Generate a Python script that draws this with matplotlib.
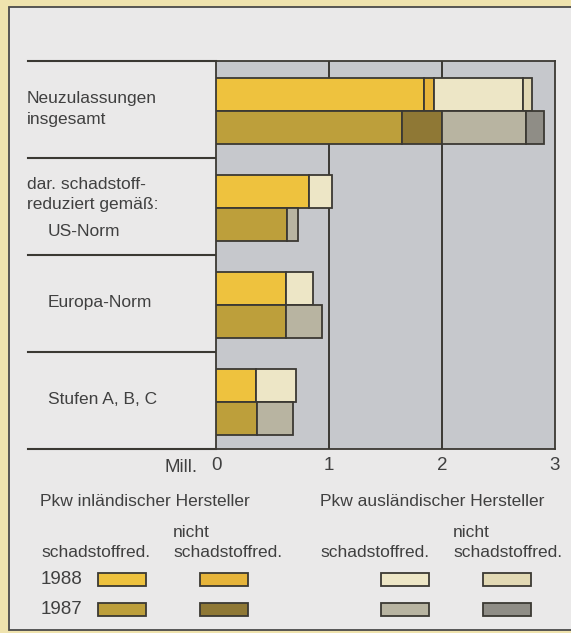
import matplotlib
matplotlib.use("Agg")
import matplotlib.pyplot as plt
from matplotlib.patches import Rectangle
from matplotlib.transforms import blended_transform_factory

# ---------------- data ----------------
categories = ["Neuzulassungen\ninsgesamt", "US-Norm", "Europa-Norm", "Stufen A, B, C"]
subheading = "dar. schadstoff-\nreduziert gemäß:"
years = ["1988", "1987"]

# million cars
inl_sr_1988 = [1.84, 0.82, 0.62, 0.35]
inl_nsr_1988 = [0.09, 0.0, 0.0, 0.0]
ausl_sr_1988 = [0.79, 0.21, 0.24, 0.36]
ausl_nsr_1988 = [0.08, 0.0, 0.0, 0.0]

inl_sr_1987 = [1.65, 0.63, 0.62, 0.36]
inl_nsr_1987 = [0.35, 0.0, 0.0, 0.0]
ausl_sr_1987 = [0.74, 0.10, 0.32, 0.32]
ausl_nsr_1987 = [0.16, 0.0, 0.0, 0.0]

xticks = [0, 1, 2, 3]
xticklabels = ["0", "1", "2", "3"]
unit_label = "Mill."

legend_groups = ["Pkw inländischer Hersteller", "Pkw ausländischer Hersteller"]
legend_cols = ["schadstoffred.", "nicht\nschadstoffred."]

# ---------------- styles ----------------
col_1988 = ["#EEC23E", "#E6B43A", "#EDE6C6", "#E2D9B4"]
col_1987 = ["#BD9F3B", "#8F7835", "#B8B4A1", "#8F8D86"]
edge = "#3b3933"
txt = "#404040"
FONT = "Liberation Sans"
plt.rcParams["font.family"] = [FONT, "DejaVu Sans"]

W, H = 571, 633
fig = plt.figure(figsize=(W / 100, H / 100), dpi=100)
fig.patch.set_facecolor("#EFE3AE")

# pixel overlay axes
bg = fig.add_axes([0, 0, 1, 1])
bg.set_xlim(0, W)
bg.set_ylim(H, 0)
bg.axis("off")
bg.add_patch(Rectangle((9, 7), 800, 623, facecolor="#EAE9E9", edgecolor="#4a4a4a", lw=1.3))

# data axes
L, R, T, B = 216, 555, 61, 449
ax = fig.add_axes([L / W, 1 - B / H, (R - L) / W, (B - T) / H])
ax.set_facecolor("#C6C8CC")
ax.set_xlim(0, 3)
ax.set_ylim(len(categories), 0)
for s in ax.spines.values():
    s.set_color(edge)
    s.set_linewidth(1.3)
for xv in xticks[1:-1]:
    ax.axvline(xv, color=edge, lw=1.4, zorder=1)

h = 0.34
c88 = [i + 0.345 for i in range(len(categories))]
c87 = [i + 0.685 for i in range(len(categories))]

def stack(yc, series, colors):
    left = [0.0] * len(yc)
    for vals, c in zip(series, colors):
        mask = [w > 0 for w in vals]
        ys = [y for y, m in zip(yc, mask) if m]
        ws = [w for w, m in zip(vals, mask) if m]
        ls = [l for l, m in zip(left, mask) if m]
        ax.barh(ys, ws, left=ls, height=h, color=c, edgecolor=edge, lw=1.3, zorder=3)
        left = [l + w for l, w in zip(left, vals)]

stack(c88, [inl_sr_1988, inl_nsr_1988, ausl_sr_1988, ausl_nsr_1988], col_1988)
stack(c87, [inl_sr_1987, inl_nsr_1987, ausl_sr_1987, ausl_nsr_1987], col_1987)

ax.set_yticks([])
ax.set_xticks(xticks)
ax.set_xticklabels(xticklabels, fontsize=13.5, color=txt)
ax.tick_params(axis="x", length=0, pad=6)

# separators in label area (x in pixels, y in group units)
tr = blended_transform_factory(bg.transData, ax.transData)
for i in range(len(categories) + 1):
    bg.plot([28, L], [i, i], transform=tr, color=edge, lw=1.5, clip_on=False, zorder=2)

# category labels
bg.text(27, 0.495, categories[0], transform=tr, fontsize=12.5, color=txt,
        va="center", ha="left", linespacing=1.55)
bg.text(27, 1.38, subheading, transform=tr, fontsize=12.5, color=txt,
        va="center", ha="left", linespacing=1.4)
bg.text(48, 1.76, categories[1], transform=tr, fontsize=12.5, color=txt, va="center", ha="left")
bg.text(48, 2.49, categories[2], transform=tr, fontsize=12.5, color=txt, va="center", ha="left")
bg.text(48, 3.49, categories[3], transform=tr, fontsize=12.5, color=txt, va="center", ha="left")

# unit label
bg.text(198, 467, unit_label, fontsize=13.5, color=txt, ha="right", va="center")

# legend
fs = 12.5
bg.text(40, 502, legend_groups[0], fontsize=fs, color=txt, va="center", ha="left")
bg.text(320, 502, legend_groups[1], fontsize=fs, color=txt, va="center", ha="left")
col_x = [41, 173, 320, 453]
for k, x in enumerate(col_x):
    lab = legend_cols[k % 2]
    bg.text(x, 560, lab, fontsize=fs, color=txt, va="bottom", ha="left", linespacing=1.4)
row_y = [579, 609]
bg.text(41, row_y[0], years[0], fontsize=13.5, color=txt, va="center", ha="left")
bg.text(41, row_y[1], years[1], fontsize=13.5, color=txt, va="center", ha="left")
sw_x = [98, 200, 381, 483]
for k, x in enumerate(sw_x):
    for yc, cols in zip(row_y, [col_1988, col_1987]):
        bg.add_patch(Rectangle((x, yc - 6.5), 48, 13, facecolor=cols[k], edgecolor=edge, lw=1.3))

fig.savefig("out.png", dpi=100, facecolor=fig.get_facecolor())
